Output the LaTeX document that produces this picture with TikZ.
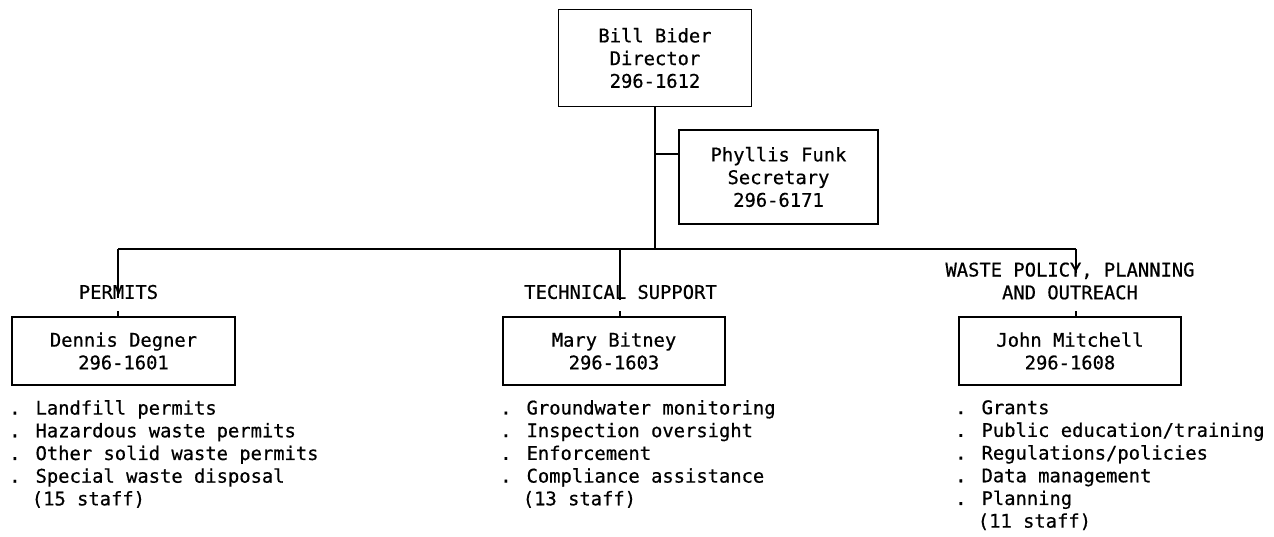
\documentclass[tikz,border=0pt]{standalone}
\usepackage{fontspec}
\setmainfont[FakeBold=0.6]{DejaVu Sans Mono}
\begin{document}
\begin{tikzpicture}[x=1pt,y=-1pt,
  every node/.style={font=\fontsize{18.8}{22.7}\selectfont, inner sep=0pt},
  box/.style={draw, line width=1.3pt, align=center, minimum height=68pt, minimum width=222pt},
  lab/.style={align=center},
  items/.style={align=left, anchor=north west},
  conn/.style={line width=1.3pt}]
\useasboundingbox (0,0) rectangle (1274,536);
% top
\node[box, minimum width=193pt, minimum height=97pt, line width=1.8pt] (dir) at (655,58) {Bill Bider\\Director\\296-1612};
\node[box, minimum width=199pt, minimum height=94pt] (phy) at (778.5,177) {Phyllis Funk\\Secretary\\296-6171};
% branch boxes
\node[box, minimum width=223pt] (den) at (123.5,351) {Dennis Degner\\296-1601};
\node[box] (mary) at (614,351) {Mary Bitney\\296-1603};
\node[box] (john) at (1070,351) {John Mitchell\\296-1608};
% labels
\node[lab] (lperm) at (118.5,292) {PERMITS};
\node[lab] (ltech) at (620.5,292) {TECHNICAL SUPPORT};
\node[lab] (lwaste) at (1070,281) {WASTE POLICY, PLANNING\\AND OUTREACH};
% coordinates
\coordinate (trunk) at (dir.south);
\coordinate (hub) at (trunk |- 0,249);
\coordinate (phyj) at (trunk |- 0,154);
\coordinate (b1) at (118,249);
\coordinate (b2) at (620,249);
\coordinate (b3) at (1076,249);
\coordinate (e1) at (118,298);
\coordinate (e2) at (620,300);
\coordinate (e3) at (1076,273);
\coordinate (t1) at (118,311);
\coordinate (t2) at (620,311);
\coordinate (t3) at (1076,311);
% connectors
\draw[conn] (trunk) -- (hub);
\draw[conn] (phyj) -- (phyj -| phy.west);
\draw[conn] (b1) -- (b3);
\draw[conn] (b1) -- (e1);
\draw[conn] (b2) -- (e2);
\draw[conn] (b3) -- (e3);
\draw[conn] (t1) -- (t1 |- den.north);
\draw[conn] (t2) -- (t2 |- mary.north);
\draw[conn] (t3) -- (t3 |- john.north);
% lists
\node[items] (l1) at (9,400) {. Landfill permits\\. Hazardous waste permits\\. Other solid waste permits\\. Special waste disposal\\\ \ (15 staff)};
\node[items] (l2) at (500,400) {. Groundwater monitoring\\. Inspection oversight\\. Enforcement\\. Compliance assistance\\\ \ (13 staff)};
\node[items] (l3) at (955,400) {. Grants\\. Public education/training\\. Regulations/policies\\. Data management\\. Planning\\\ \ (11 staff)};
\end{tikzpicture}
\end{document}
